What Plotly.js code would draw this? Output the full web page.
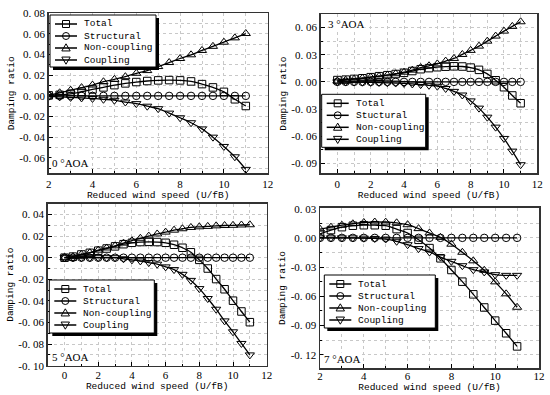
<!DOCTYPE html>
<html>
<head>
<meta charset="utf-8">
<script src="https://cdn.plot.ly/plotly-3.0.1.min.js"></script>
<style>html,body{margin:0;padding:0;background:#fff;}#chart{width:550px;height:395px;}</style>
</head>
<body>
<div id="chart"></div>
<script>
// ---------- data ----------
const seriesNames = ['Total', 'Structural', 'Non-coupling', 'Coupling'];
const seriesNames2 = ['Total', 'Stuctural', 'Non-coupling', 'Coupling'];
const aoaLabels = ['0 °AOA', '3 °AOA', '5 °AOA', '7 °AOA'];
const xTitle = 'Reduced wind speed (U/fB)';
const yTitle = 'Damping ratio';

// 0 deg AOA
const x0aoa = [2,2.5,3,3.5,4,4.5,5,5.5,6,6.5,7,7.5,8,8.5,9,9.5,10,10.5,11];
const total0 = [0.0005,0.001,0.002,0.004,0.0062,0.0082,0.0104,0.0121,0.0134,0.0144,0.015,0.0153,0.015,0.014,0.0114,0.0082,0.0039,-0.0033,-0.0098];
const struct0 = [0,0,0,0,0,0,0,0,0,0,0,0,0,0,0,0,0,0,0];
const noncoup0 = [0.001,0.003,0.0055,0.008,0.0105,0.0137,0.016,0.0186,0.0219,0.0245,0.0284,0.0323,0.0362,0.0398,0.044,0.048,0.052,0.0562,0.0604];
const coup0 = [-0.0005,-0.001,-0.0015,-0.002,-0.0025,-0.0033,-0.0042,-0.006,-0.0075,-0.010,-0.0124,-0.0167,-0.0212,-0.026,-0.032,-0.040,-0.049,-0.059,-0.0712];

// 3 deg AOA
const x3aoa = [0,0.5,1,1.5,2,2.5,3,3.5,4,4.5,5,5.5,6,6.5,7,7.5,8,8.5,9,9.5,10,10.5,11];
const total3 = [0.002,0.0025,0.0033,0.004,0.0052,0.0063,0.0074,0.0087,0.010,0.012,0.014,0.0152,0.0162,0.0168,0.0172,0.017,0.0158,0.0133,0.0088,0.0018,-0.0059,-0.015,-0.0236];
const struct3 = [0,0,0,0,0,0,0,0,0,0,0,0,0,0,0,0,0,0,0,0,0,0,0];
const noncoup3 = [0.001,0.002,0.003,0.004,0.0052,0.0062,0.0074,0.009,0.0107,0.013,0.0158,0.0178,0.0199,0.023,0.0259,0.0303,0.0348,0.0395,0.045,0.0506,0.0561,0.0613,0.0664];
const coup3 = [0,0,-0.0002,-0.0003,-0.0005,-0.0007,-0.001,-0.0013,-0.0017,-0.0023,-0.003,-0.0038,-0.0048,-0.0073,-0.0105,-0.0145,-0.021,-0.029,-0.039,-0.050,-0.0625,-0.0765,-0.0915];

// 5 deg AOA
const x5aoa = [0,0.5,1,1.5,2,2.5,3,3.5,4,4.5,5,5.5,6,6.5,7,7.5,8,8.5,9,9.5,10,10.5,11];
const total5 = [0,0.001,0.003,0.0045,0.0065,0.0085,0.0105,0.0125,0.0138,0.0145,0.0147,0.0145,0.0138,0.012,0.0092,0.005,-0.002,-0.010,-0.0198,-0.0292,-0.0398,-0.0498,-0.0597];
const struct5 = [0,0,0,0,0,0,0,0,0,0,0,0,0,0,0,0,0,0,0,0,0,0,0];
const noncoup5 = [0,0.001,0.003,0.0046,0.007,0.009,0.011,0.0135,0.0157,0.018,0.020,0.022,0.0237,0.0255,0.0268,0.028,0.0286,0.029,0.0295,0.0298,0.030,0.0303,0.0305];
const coup5 = [0,0,0,0,0,0,0,-0.001,-0.002,-0.003,-0.0045,-0.006,-0.0085,-0.011,-0.0154,-0.021,-0.0286,-0.0378,-0.0477,-0.0585,-0.0686,-0.0794,-0.090];

// 7 deg AOA
const x7aoa = [2,2.5,3,3.5,4,4.5,5,5.5,6,6.5,7,7.5,8,8.5,9,9.5,10,10.5,11];
const total7 = [0.004,0.008,0.011,0.0125,0.013,0.013,0.0125,0.009,0.005,-0.002,-0.0105,-0.021,-0.033,-0.045,-0.058,-0.0715,-0.085,-0.098,-0.1115];
const struct7 = [0,0,0,0,0,0,0,0,0,0,0,0,0,0,0,0,0,0,0];
const noncoup7 = [0.009,0.011,0.013,0.0145,0.0158,0.0163,0.0162,0.0155,0.0135,0.0095,0.005,0.0005,-0.0065,-0.0148,-0.0236,-0.0333,-0.0452,-0.0575,-0.0713];
const coup7 = [0,0,0,0,-0.0003,-0.0006,-0.0012,-0.0035,-0.007,-0.011,-0.0145,-0.0197,-0.0241,-0.0286,-0.0327,-0.035,-0.0378,-0.0385,-0.0385];

// tick labels
const xTicksA = [2,4,6,8,10,12];
const xTicksB = [0,2,4,6,8,10,12];
const yTicks0 = [-0.06,-0.04,-0.02,0,0.02,0.04,0.06,0.08];
const yTickText0 = ['-0. 06','-0. 04','-0. 02','0. 00','0. 02','0. 04','0. 06','0. 08'];
const yTicks3 = [-0.09,-0.06,-0.03,0,0.03,0.06];
const yTickText3 = ['-0. 09','-0. 06','-0. 03','0. 00','0. 03','0. 06'];
const yTicks5 = [-0.10,-0.08,-0.06,-0.04,-0.02,0,0.02,0.04];
const yTickText5 = ['-0. 10','-0. 08','-0. 06','-0. 04','-0. 02','0. 00','0. 02','0. 04'];
const yTicks7 = [-0.12,-0.09,-0.06,-0.03,0,0.03];
const yTickText7 = ['-0. 12','-0. 09','-0. 06','-0. 03','0. 00','0. 03'];

// ---------- build ----------
const W = 550, H = 395;
const px = v => v / W, py = v => 1 - v / H;
const symbols = ['square-open','circle-open','triangle-up-open','triangle-down-open'];
const panels = [
  {x: x0aoa, ys: [total0, struct0, noncoup0, coup0], names: seriesNames},
  {x: x3aoa, ys: [total3, struct3, noncoup3, coup3], names: seriesNames2},
  {x: x5aoa, ys: [total5, struct5, noncoup5, coup5], names: seriesNames},
  {x: x7aoa, ys: [total7, struct7, noncoup7, coup7], names: seriesNames}
];
const data = [];
panels.forEach((p, i) => {
  const suf = i === 0 ? '' : String(i + 1);
  p.ys.forEach((ys, k) => {
    data.push({
      type: 'scatter', mode: 'lines+markers',
      x: p.x, y: ys, name: p.names[k], showlegend: false,
      xaxis: 'x' + suf, yaxis: 'y' + suf,
      line: {color: '#000', width: 1.3, shape: 'spline', smoothing: 1},
      marker: {symbol: symbols[k], size: k >= 2 ? 8 : 7.5, color: '#000', line: {width: 1, color: '#000'}}
    });
  });
});

const SERIF = "'Liberation Serif', 'Times New Roman', serif";
const MONO = "'Liberation Mono', 'Courier New', monospace";
const tickFont = {family: SERIF, size: 11, color: '#000'};
const titleFont = {family: MONO, size: 9.5, color: '#000'};
const gridStyle = {showgrid: true, gridcolor: '#c8c8c8', griddash: 'dot', gridwidth: 1};
function xax(domain, range, ticks, anchor, labelShift) {
  return Object.assign({
    domain: domain, range: range, anchor: anchor, tickmode: 'array', tickvals: ticks, ticktext: ticks.map(String),
    ticks: 'inside', ticklen: 4, tickcolor: '#000', tickfont: tickFont, ticklabelstandoff: labelShift,
    showline: true, linecolor: '#333', linewidth: 1.5, mirror: true, zeroline: false,
    minor: Object.assign({tickmode: 'linear', tick0: 0, dtick: 1, ticks: 'inside', ticklen: 2, tickcolor: '#000'}, gridStyle),
    title: {text: xTitle, font: titleFont, standoff: 0},
    fixedrange: true
  }, gridStyle);
}
function yax(domain, range, ticks, text, minorStep, anchor) {
  return Object.assign({
    domain: domain, range: range, anchor: anchor, tickmode: 'array', tickvals: ticks, ticktext: text,
    ticks: 'inside', ticklen: 4, tickcolor: '#000', tickfont: tickFont,
    showline: true, linecolor: '#333', linewidth: 1.5, mirror: true, zeroline: false,
    minor: Object.assign({tickmode: 'linear', tick0: 0, dtick: minorStep, ticks: 'inside', ticklen: 2, tickcolor: '#000'}, gridStyle),
    title: {text: yTitle, font: titleFont, standoff: 3},
    fixedrange: true
  }, gridStyle);
}

// hand-drawn legends (box with drop shadow, line + marker samples, labels)
const shapes = [], annotations = [];
const legendBoxes = [
  {x0: 50, y0: 15, w: 106, h: 52},
  {x0: 321.7, y0: 94.3, w: 104, h: 53},
  {x0: 49.3, y0: 280, w: 105, h: 53},
  {x0: 324.3, y0: 275, w: 111, h: 53}
];
function markerShape(k, cx, cy) {
  const base = {xref: 'paper', yref: 'paper', layer: 'above', line: {color: '#000', width: 1}, fillcolor: 'rgba(0,0,0,0)'};
  const r = 3.5;
  if (k === 0) return Object.assign({type: 'rect', x0: px(cx - r), x1: px(cx + r), y0: py(cy + r), y1: py(cy - r)}, base);
  if (k === 1) return Object.assign({type: 'circle', x0: px(cx - r), x1: px(cx + r), y0: py(cy + r), y1: py(cy - r)}, base);
  const s = 4.2;
  let pts;
  if (k === 2) pts = [[cx - s, cy + s * 0.7], [cx + s, cy + s * 0.7], [cx, cy - s]];
  else pts = [[cx - s, cy - s * 0.7], [cx + s, cy - s * 0.7], [cx, cy + s]];
  const path = 'M' + pts.map(p => px(p[0]).toFixed(5) + ',' + py(p[1]).toFixed(5)).join(' L') + ' Z';
  return Object.assign({type: 'path', path: path}, base);
}
legendBoxes.forEach((b, i) => {
  shapes.push({type: 'rect', xref: 'paper', yref: 'paper', layer: 'above',
    x0: px(b.x0 + 3), x1: px(b.x0 + b.w + 3), y0: py(b.y0 + b.h + 3), y1: py(b.y0 + 3),
    fillcolor: '#000', line: {width: 0}});
  shapes.push({type: 'rect', xref: 'paper', yref: 'paper', layer: 'above',
    x0: px(b.x0), x1: px(b.x0 + b.w), y0: py(b.y0 + b.h), y1: py(b.y0),
    fillcolor: '#fff', line: {color: '#000', width: 1}});
  const names = panels[i].names;
  for (let k = 0; k < 4; k++) {
    const cy = b.y0 + 9 + 12 * k;
    shapes.push({type: 'line', xref: 'paper', yref: 'paper', layer: 'above',
      x0: px(b.x0 + 5), x1: px(b.x0 + 27), y0: py(cy), y1: py(cy), line: {color: '#000', width: 1.5}});
    shapes.push(markerShape(k, b.x0 + 16, cy));
    annotations.push({text: names[k], xref: 'paper', yref: 'paper', x: px(b.x0 + 32), y: py(cy),
      xanchor: 'left', yanchor: 'middle', showarrow: false,
      font: {family: MONO, size: 9.5, color: '#000'}});
  }
});

function aoa(text, x, y, ya) {
  return {text: text, xref: 'paper', yref: 'paper', x: px(x), y: py(y), xanchor: 'left', yanchor: ya, showarrow: false,
          bgcolor: '#fff', borderpad: 0, font: {family: SERIF, size: 11, color: '#000'}};
}
annotations.push(aoa(aoaLabels[0], 51, 170, 'bottom'));
annotations.push(aoa(aoaLabels[1], 327, 17, 'top'));
annotations.push(aoa(aoaLabels[2], 51, 364, 'bottom'));
annotations.push(aoa(aoaLabels[3], 323, 366, 'bottom'));

const layout = {
  width: W, height: H, margin: {l: 0, r: 0, t: 0, b: 0},
  paper_bgcolor: '#fff', plot_bgcolor: '#fff', showlegend: false,
  xaxis:  xax([48.7/W, 267.7/W], [2, 12], xTicksA, 'y', 0),
  yaxis:  yax([1-173.3/H, 1-13.3/H], [-0.075, 0.08], yTicks0, yTickText0, 0.01, 'x'),
  xaxis2: xax([320.7/W, 537.3/W], [-1, 12], xTicksB, 'y2', 0),
  yaxis2: yax([1-173.3/H, 1-14/H], [-0.101, 0.075], yTicks3, yTickText3, 0.015, 'x2'),
  xaxis3: xax([47.7/W, 266.7/W], [-1, 12], xTicksB, 'y3', -1),
  yaxis3: yax([1-365.7/H, 1-203.7/H], [-0.10, 0.05], yTicks5, yTickText5, 0.01, 'x3'),
  xaxis4: xax([320/W, 539/W], [2, 12], xTicksA, 'y4', -3),
  yaxis4: yax([1-368.3/H, 1-207.7/H], [-0.134, 0.031], yTicks7, yTickText7, 0.015, 'x4'),
  annotations: annotations,
  shapes: shapes
};

Plotly.newPlot('chart', data, layout, {staticPlot: true, displayModeBar: false});
</script>
</body>
</html>
